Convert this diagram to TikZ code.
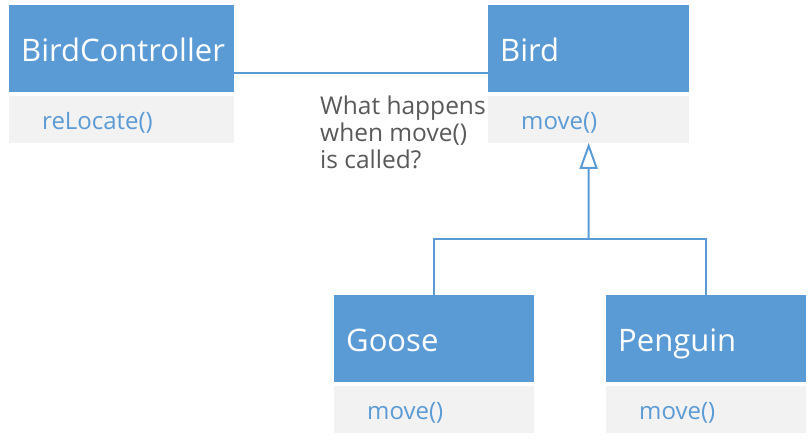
\documentclass[tikz,border=0pt]{standalone}
\usepackage{fontspec}
\setmainfont{Open Sans}
\usetikzlibrary{positioning,arrows.meta}
\definecolor{umlblue}{HTML}{5B9BD5}
\definecolor{umlgray}{HTML}{F2F2F2}
\definecolor{notegray}{HTML}{595959}
\tikzset{
  classhead/.style={rectangle, fill=umlblue, text=white, anchor=north west,
    minimum height=87pt, inner xsep=12pt, inner ysep=0pt, text width=#1,
    text height=30pt, text depth=5pt,
    align=left, font=\fontsize{31}{36}\selectfont},
  classbody/.style={rectangle, fill=umlgray, text=umlblue, anchor=north west,
    minimum height=47pt, inner xsep=33pt, inner ysep=0pt, text width=#1,
    text height=24pt, text depth=3pt,
    align=left, font=\fontsize{24}{28}\selectfont},
  link/.style={draw=umlblue, line width=2pt}
}
\begin{document}
\begin{tikzpicture}[x=1pt,y=1pt]
    \useasboundingbox (0,0) rectangle (811,-442);
    % Classes
    \node[classhead=201pt] (bchead) at (9,-5) {BirdController};
    \node[classbody=159pt, below=3pt of bchead.south west, anchor=north west] (bcbody) {reLocate()};
    \node[classhead=177pt] (birdhead) at (488,-5) {Bird};
    \node[classbody=135pt, below=3pt of birdhead.south west, anchor=north west] (birdbody) {move()};
    \node[classhead=176pt] (goosehead) at (334,-295) {Goose};
    \node[classbody=134pt, below=3pt of goosehead.south west, anchor=north west] (goosebody) {move()};
    \node[classhead=176pt] (penguinhead) at (606,-295) {Penguin};
    \node[classbody=134pt, below=3pt of penguinhead.south west, anchor=north west] (penguinbody) {move()};

    % Association
    \draw[link] ([yshift=19pt]bchead.south east) -- ([yshift=19pt]birdhead.south west);
    \node[anchor=north west, inner sep=0pt, align=left, text=notegray,
      font=\fontsize{24.5}{27}\selectfont] (note) at (320,-96)
      {What happens\\when move()\\is called?};

    % Inheritance
    \coordinate (split) at (588.5,-239);
    \draw[link] (goosehead.north) |- (split);
    \draw[link] (penguinhead.north) |- (split);
    \draw[link, -{Triangle[open, width=18pt, length=26pt]}] (split) -- (birdbody.south);
\end{tikzpicture}
\end{document}
